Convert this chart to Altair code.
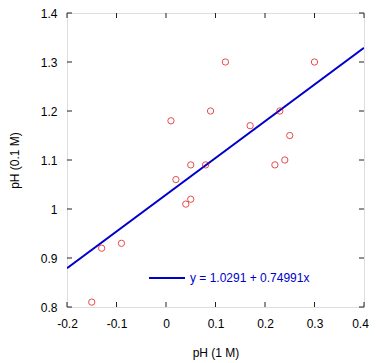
import altair as alt
import pandas as pd

# data
x_vals = [-0.15, -0.13, -0.09, 0.01, 0.02, 0.04, 0.05, 0.05, 0.08, 0.09, 0.12, 0.17, 0.22, 0.23, 0.24, 0.25, 0.30]
y_vals = [0.81, 0.92, 0.93, 1.18, 1.06, 1.01, 1.02, 1.09, 1.09, 1.20, 1.30, 1.17, 1.09, 1.20, 1.10, 1.15, 1.30]
intercept = 1.0291
slope = 0.74991
fit_x = [-0.2, 0.4]
fit_label = "y = 1.0291 + 0.74991x"
x_ticks = [-0.2, -0.1, 0.0, 0.1, 0.2, 0.3, 0.4]
y_ticks = [0.8, 0.9, 1.0, 1.1, 1.2, 1.3, 1.4]

W, H = 297, 294
FONT = "Liberation Sans"
FRAME = "#222222"
RED = "#dd0000"
BLUE = "#0000cc"

pts = pd.DataFrame({"x": x_vals, "y": y_vals})
fit = pd.DataFrame({"x": fit_x, "y": [intercept + slope * v for v in fit_x], "lab": [fit_label] * 2})
xt = pd.DataFrame({"v": x_ticks})
yt = pd.DataFrame({"v": y_ticks})

xs = alt.Scale(domain=[-0.2, 0.4], nice=False, zero=False)
ys = alt.Scale(domain=[0.8, 1.4], nice=False, zero=False)

lab_expr = "datum.value < -0.00001 ? '-' + format(-datum.value, '.1~f') : format(abs(datum.value), '.1~f')"

xaxis = alt.Axis(values=x_ticks, title="pH (1 M)", grid=False, domain=False, ticks=False,
                 labelFlush=False, labelOverlap=False,
                 labelOffset={"condition": {"test": "datum.value > 0.35", "value": -4}, "value": 0},
                 labelExpr=lab_expr, labelPadding=11, labelFont=FONT, labelFontSize=12,
                 labelColor="#000000", titleFont=FONT, titleFontSize=12, titleFontWeight="normal",
                 titleColor="#000000", titleBaseline="alphabetic", titleY=49, titleX=W / 2)
yaxis = alt.Axis(values=y_ticks, title="pH (0.1 M)", grid=False, domain=False, ticks=False,
                 labelFlush=False, labelOverlap=False,
                 labelExpr=lab_expr, labelPadding=10, labelFont=FONT, labelFontSize=12,
                 labelColor="#000000", titleFont=FONT, titleFontSize=12, titleFontWeight="normal",
                 titleColor="#000000", titleBaseline="alphabetic", titleAngle=270,
                 titleX=-49, titleY=H / 2, titleAlign="center")

points = alt.Chart(pts).mark_point(shape="circle", filled=False, size=40, strokeWidth=1, color=RED).encode(
    x=alt.X("x:Q", scale=xs, axis=xaxis),
    y=alt.Y("y:Q", scale=ys, axis=yaxis),
)

line = alt.Chart(fit).mark_line(strokeWidth=2, clip=True).encode(
    x=alt.X("x:Q", scale=xs),
    y=alt.Y("y:Q", scale=ys),
    color=alt.Color("lab:N", scale=alt.Scale(range=[BLUE]),
                    legend=alt.Legend(title=None, orient="none", legendX=81, legendY=246,
                                      symbolType="stroke", symbolSize=1296, symbolStrokeWidth=2,
                                      labelColor=BLUE, labelFont=FONT, labelFontSize=12,
                                      labelOffset=4, padding=0, symbolStrokeColor=BLUE)),
)

tick_bottom = alt.Chart(xt).mark_rule(color=FRAME, strokeWidth=1).encode(
    x=alt.X("v:Q", scale=xs), y=alt.value(H), y2=alt.value(H - 5))
tick_top = alt.Chart(xt).mark_rule(color=FRAME, strokeWidth=1).encode(
    x=alt.X("v:Q", scale=xs), y=alt.value(0), y2=alt.value(5))
tick_left = alt.Chart(yt).mark_rule(color=FRAME, strokeWidth=1).encode(
    y=alt.Y("v:Q", scale=ys), x=alt.value(0), x2=alt.value(5))
tick_right = alt.Chart(yt).mark_rule(color=FRAME, strokeWidth=1).encode(
    y=alt.Y("v:Q", scale=ys), x=alt.value(W), x2=alt.value(W - 5))

chart = alt.layer(line, points, tick_bottom, tick_top, tick_left, tick_right).properties(
    width=W, height=H,
    padding={"left": 59, "top": 5, "right": 5, "bottom": 56},
    autosize=alt.AutoSizeParams(type="none"),
).configure_view(stroke=FRAME, strokeWidth=1).configure(background="white")

chart.save("out.html", embed_options={"renderer": "svg", "actions": False})
